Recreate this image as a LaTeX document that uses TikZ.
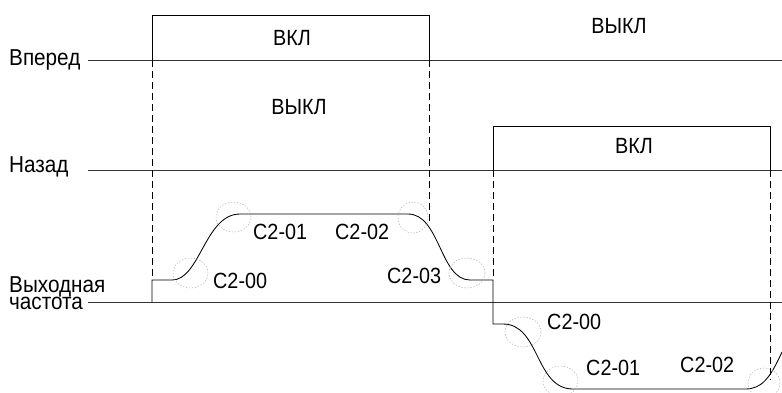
\documentclass[tikz,border=0pt]{standalone}
\usepackage{fontspec}
\setmainfont{Liberation Sans}[FakeStretch=0.9]

\begin{document}
\begin{tikzpicture}[x=1pt, y=-1pt,
  lbl/.style={anchor=base west, inner sep=0pt, font=\fontsize{23}{16}\selectfont},
  state/.style={inner sep=0pt, font=\fontsize{22}{22}\selectfont},
  param/.style={anchor=base west, inner sep=0pt, font=\fontsize{22}{22}\selectfont},
  axis/.style={line width=0.75pt, black!80},
  sig/.style={line width=0.85pt, black},
  guide/.style={line width=0.8pt, dash pattern=on 7pt off 4pt},
  zone/.style={line width=0.4pt, gray!70, dash pattern=on 1.5pt off 1.5pt}
]
  \useasboundingbox (0,0) rectangle (782,392);

  % Signal names
  \node[lbl] (fwd) at (9,65) {Вперед};
  \node[lbl] (rev) at (9,172) {Назад};
  \node[lbl, anchor=north west, align=left] (out) at (9,276) {Выходная\\частота};

  % Reference lines
  \coordinate (fwdl) at (88,60);  \coordinate (fwdr) at (782,60);
  \coordinate (revl) at (88,170); \coordinate (revr) at (782,170);
  \coordinate (outl) at (88,302); \coordinate (outr) at (782,302);
  \draw[axis] (fwdl) -- (fwdr);
  \draw[axis] (revl) -- (revr);
  \draw[axis] (outl) -- (outr);

  % Forward command
  \coordinate (fon) at (152,60);
  \coordinate (foff) at (429,60);
  \draw[sig] (fon) |- (429,15) -- (foff);
  \node[state] (fwdon) at (292,38) {ВКЛ};
  \node[state] (fwdoff) at (619,26) {ВЫКЛ};

  % Reverse command
  \coordinate (ron) at (493,170);
  \coordinate (roff) at (770,170);
  \draw[sig] (ron) |- (770,126) -- (roff);
  \node[state] (revoff) at (299,107) {ВЫКЛ};
  \node[state] (revon) at (634,146) {ВКЛ};

  % Output frequency
  \coordinate (start) at (152,302);
  \draw[sig] (start) -- (152,280) -- (172,280)
    .. controls (200,280) and (205,214) .. (240,214) -- (408,214)
    .. controls (440,214) and (440,280) .. (470,280) -- (493,280)
    -- (493,324) -- (503,324)
    .. controls (540,324) and (535,389) .. (573,389) -- (745,389)
    .. controls (762,389) and (770,378) .. (782,352);

  % Time guides
  \draw[guide] (fon) -- (152,280);
  \draw[guide] (foff) -- (429,224);
  \draw[guide] (ron) -- (493,280);
  \draw[guide] (roff) -- (770,380);

  % Acceleration / deceleration corners
  \draw[zone] (190.5,273) ellipse [x radius=17.5pt, y radius=15pt];
  \draw[zone] (233.5,217) ellipse [x radius=17.5pt, y radius=15pt];
  \draw[zone] (413,217.5) ellipse [x radius=15pt, y radius=15.5pt];
  \draw[zone] (467,273) ellipse [x radius=18pt, y radius=15pt];
  \draw[zone] (523,332) ellipse [x radius=18pt, y radius=15pt];
  \draw[zone] (560.5,381) ellipse [x radius=17.5pt, y radius=15pt];
  \draw[zone] (764,383) ellipse [x radius=16pt, y radius=15pt];

  % S-curve parameters
  \node[param] (p0) at (213,288) {C2-00};
  \node[param] (p1) at (253,239) {C2-01};
  \node[param] (p2) at (335,239) {C2-02};
  \node[param] (p3) at (387,283) {C2-03};
  \node[param] (q0) at (547,329) {C2-00};
  \node[param] (q1) at (586,375) {C2-01};
  \node[param] (q2) at (680,372) {C2-02};
\end{tikzpicture}
\end{document}
